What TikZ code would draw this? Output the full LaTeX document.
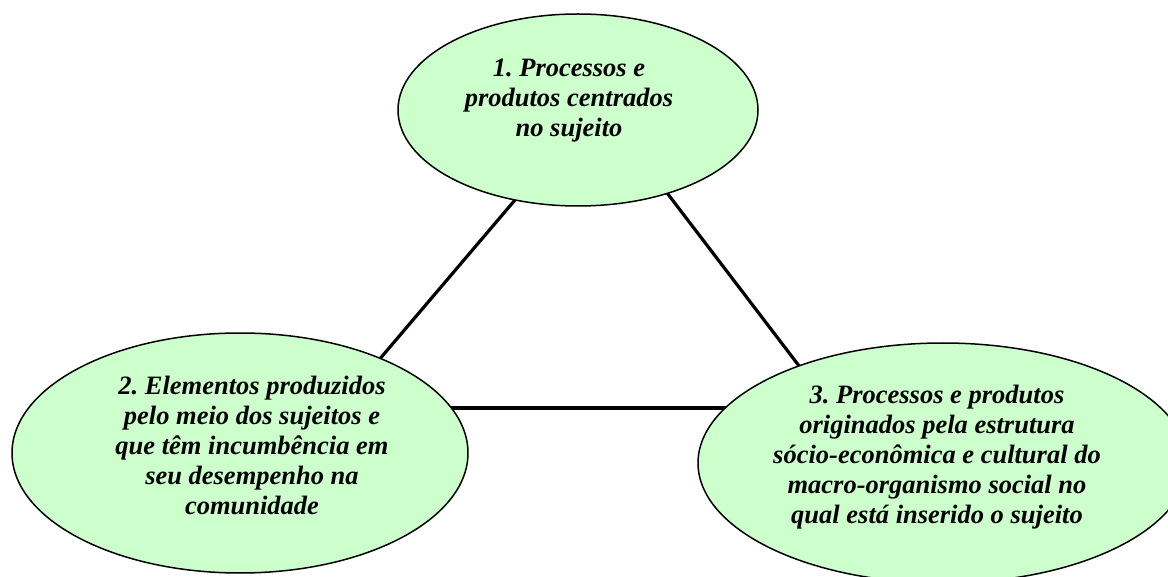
\documentclass[tikz,border=0pt]{standalone}
\usepackage{fontspec}
\setmainfont{Liberation Serif}
\usetikzlibrary{shapes.geometric,backgrounds}
\definecolor{ellfill}{HTML}{CCFFCC}
\frenchspacing
\tikzset{
  ell/.style={ellipse, draw=black, line width=1.5pt, fill=ellfill, inner sep=0pt, outer sep=0pt},
  elltext/.style={align=center, inner sep=0pt, font=\fontsize{26.5}{30}\selectfont\bfseries\itshape},
  link/.style={line width=3.2pt, draw=black}
}
\begin{document}
\begin{tikzpicture}[x=1pt,y=-1pt]
\useasboundingbox (0,0) rectangle (1168,577);
\clip (0,0) rectangle (1168,577);
\node[ell, minimum width=360pt, minimum height=192pt] (e1) at (578,110) {};
\node[ell, minimum width=456pt, minimum height=240pt] (e2) at (240,453) {};
\node[ell, minimum width=490pt, minimum height=240pt] (e3) at (943,463) {};
\node[elltext] (t1) at (569,101) {1. Processos e\\produtos centrados\\no sujeito};
\node[elltext] (t2) at (252,445) {2. Elementos produzidos\\pelo meio dos sujeitos e\\que têm incumbência em\\seu desempenho na\\comunidade};
\node[elltext] (t3) at (937,457) {3. Processos e produtos\\originados pela estrutura\\sócio-econômica e cultural do\\macro-organismo social no\\qual está inserido o sujeito};
\begin{scope}[on background layer]
\draw[link] (e1.235) -- (e2.34.7);
\draw[link] (e1.-43.7) -- (e3.146.5);
\draw[link] (e2.12) -- (e2.12 -| e3.165.8);
\end{scope}
\end{tikzpicture}
\end{document}
